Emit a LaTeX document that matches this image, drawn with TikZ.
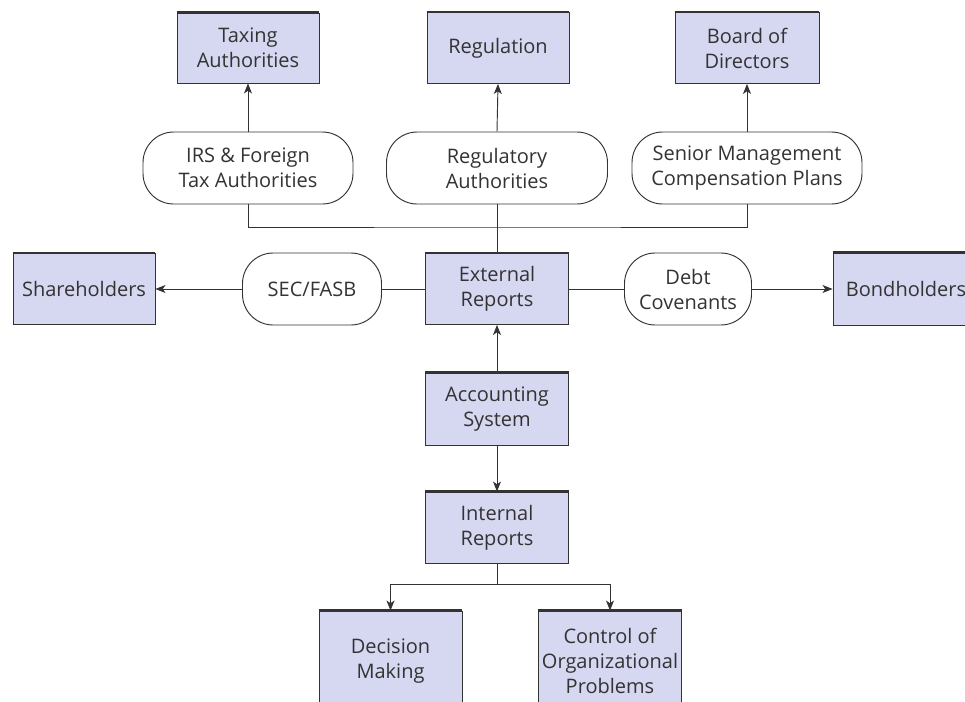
\documentclass[tikz,border=0pt]{standalone}
\usepackage{fontspec}
\setmainfont{Open Sans}
\usetikzlibrary{arrows.meta}
\definecolor{boxfill}{HTML}{D6D7F1}
\definecolor{ink}{HTML}{333333}
\begin{document}
\begin{tikzpicture}[x=0.75pt,y=-0.75pt,
  every node/.style={font=\fontsize{15pt}{18.75pt}\selectfont, text=ink, align=center, inner sep=0pt},
  sz/.style 2 args={minimum width=#1*0.75pt, minimum height=#2*0.75pt},
  box/.style={draw=ink, line width=0.7pt, fill=boxfill},
  pill/.style={draw=ink, line width=0.7pt, fill=white, rounded corners=23pt},
  topline/.style={draw=ink, line width=1.9pt},
  conn/.style={draw=ink, line width=0.7pt},
  arr/.style={conn, -{Stealth[length=7.5pt, width=6pt, inset=2pt]}}]
\path[use as bounding box, clip] (0,0) rectangle (965,701);
% top row
\node[box, sz={142}{70}] (tax) at (248,48) {Taxing\\Authorities};
\node[box, sz={142}{71}] (reg) at (498,48) {Regulation};
\node[box, sz={144}{71}] (board) at (747,48) {Board of\\Directors};
% pills
\node[pill, sz={210}{72}] (irs) at (248,168) {IRS \& Foreign\\Tax Authorities};
\node[pill, sz={221}{72}] (regauth) at (497,168) {Regulatory\\Authorities};
\node[pill, sz={230}{72}] (senior) at (747,168) {Senior Management\\Compensation Plans};
% middle row
\node[box, sz={143}{71}] (ext) at (497,289) {External\\Reports};
\node[pill, sz={139}{72}] (sec) at (312,289) {SEC/FASB};
\node[box, sz={142}{71}] (share) at (84,289) {Shareholders};
\node[pill, sz={127}{72}] (debt) at (688,289) {Debt\\Covenants};
\node[box, sz={146}{72}] (bond) at (906,289) {Bondholders};
% lower column
\node[box, sz={143}{72}] (acc) at (497,409) {Accounting\\System};
\node[box, sz={143}{71}] (int) at (497,527.5) {Internal\\Reports};
\node[box, sz={143}{100}] (dec) at (390.5,661) {Decision\\Making};
\node[box, sz={143}{100}] (ctrl) at (610,661) {Control of\\Organizational\\Problems};
\foreach \n in {tax,reg,board,ext,share,bond,acc,int,dec,ctrl}
  \draw[topline] (\n.north west) -- (\n.north east);
% connectors
\coordinate (bus) at (497,227);
\draw[arr] (irs.north) -- (tax.south);
\draw[arr] (regauth.north) -- (reg.south);
\draw[arr] (senior.north) -- (board.south);
\draw[conn] (irs.south) |- (bus) -| (senior.south);
\draw[conn] (regauth.south) -- (ext.north);
\draw[conn] (ext.west) -- (sec.east);
\draw[arr] (sec.west) -- (share.east);
\draw[conn] (ext.east) -- (debt.west);
\draw[arr] (debt.east) -- (bond.west);
\draw[arr] (acc.north) -- (ext.south);
\draw[arr] (acc.south) -- (int.north);
\coordinate (split) at (497,584);
\draw[conn] (int.south) -- (split);
\draw[arr] (split) -| (dec.north);
\draw[arr] (split) -| (ctrl.north);
\end{tikzpicture}
\end{document}
